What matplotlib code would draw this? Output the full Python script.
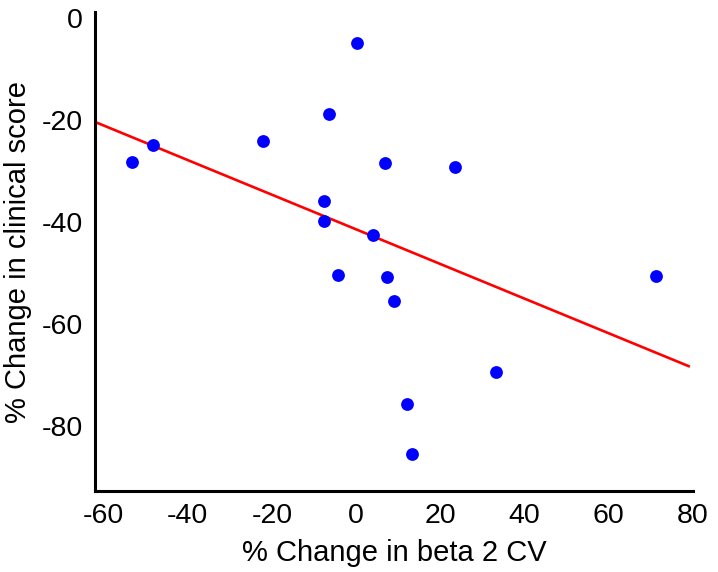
import numpy as np
import matplotlib.pyplot as plt

# % change in beta 2 CV vs % change in clinical score
beta2_cv = [-53.2, -48.2, -22.1, -6.4, 0.2, 6.8, 23.5, -7.7, -7.6, 4.1,
            -4.4, 7.4, 9.1, 71.3, 33.2, 12.0, 13.2]
clinical = [-28.2, -24.9, -24.1, -18.7, -4.8, -28.4, -29.2, -35.9, -39.8, -42.6,
            -50.3, -50.8, -55.5, -50.6, -69.4, -75.7, -85.5]
x_ticks = [-60, -40, -20, 0, 20, 40, 60, 80]
y_ticks = [0, -20, -40, -60, -80]

plt.rcParams['font.family'] = ['Liberation Sans', 'DejaVu Sans']
plt.rcParams['axes.unicode_minus'] = False

fig = plt.figure(figsize=(7.18, 5.72), dpi=100)
ax = fig.add_axes([0.1323, 0.1416, 0.8327, 0.8374])

ax.scatter(beta2_cv, clinical, s=85, color='#0000ff', zorder=3, linewidths=0)

# least squares fit line across the axis range
xlim = (-62, 79)
k, b = np.polyfit(beta2_cv, clinical, 1)
xs = np.array(xlim)
ax.plot(xs, k * xs + b, color='#ff0000', lw=1.9, zorder=2)

ax.set_xlim(*xlim)
ax.set_ylim(-92.7, 1.2)
ax.set_xticks(x_ticks)
ax.set_yticks(y_ticks)
ax.tick_params(length=0, pad=8.5, labelsize=20.5)

for s in ['top', 'right']:
    ax.spines[s].set_visible(False)
for s in ['left', 'bottom']:
    ax.spines[s].set_linewidth(2.2)

ax.set_xlabel('% Change in beta 2 CV', fontsize=21, labelpad=7)
ax.set_ylabel('% Change in clinical score', fontsize=21, labelpad=7)

fig.savefig('out.png', dpi=100)
